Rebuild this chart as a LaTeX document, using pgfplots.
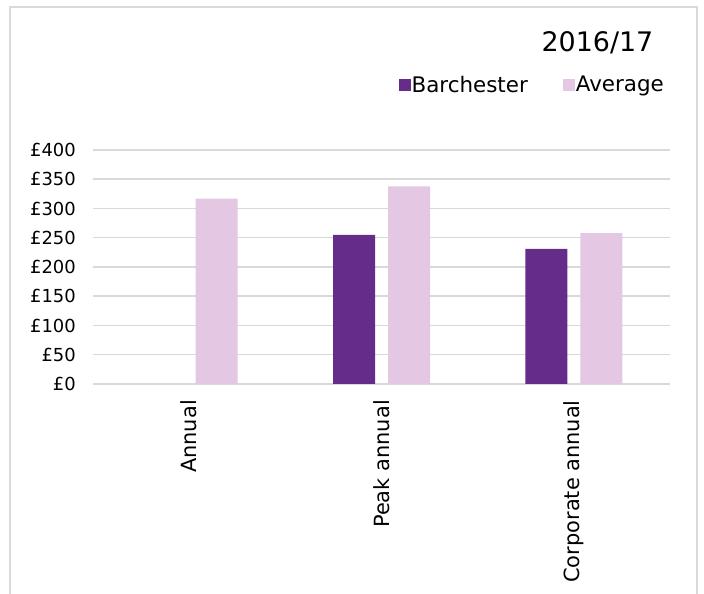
\documentclass[border=0pt]{standalone}
\usepackage{pgfplots}
\pgfplotsset{compat=1.18}
\usepackage{fontspec}
\setmainfont{DejaVu Sans}
\definecolor{barch}{HTML}{652D89}
\definecolor{avg}{HTML}{E3C7E3}
\definecolor{gridgray}{HTML}{D9D9D9}
\begin{document}
\begin{tikzpicture}[x=1bp,y=1bp]
\path[use as bounding box] (0,0) rectangle (704,594);
\draw[gridgray, line width=1.5bp] (10,0) -- (10,587) -- (697,587) -- (697,0);
\node[anchor=base, font=\fontsize{27}{30}\selectfont] at (597.5,542) {2016/17};
\begin{axis}[
  at={(93bp,210bp)}, anchor=south west,
  scale only axis, width=577bp, height=234bp,
  ybar=13bp, bar width=42bp,
  xmin=-0.5, xmax=2.5, ymin=0, ymax=400,
  xtick={0,1,2},
  xticklabels={Annual,Peak annual,Corporate annual},
  ytick={0,50,...,400},
  yticklabels={£0,£50,£100,£150,£200,£250,£300,£350,£400},
  axis line style={draw=none},
  major tick length=0pt,
  ymajorgrids,
  grid style={gridgray, line width=1.5bp},
  yticklabel style={font=\fontsize{18}{21}\selectfont, inner sep=0pt, anchor=east},
  yticklabel shift=17bp,
  xticklabel style={font=\fontsize{21}{25}\selectfont, inner sep=0pt, rotate=90, anchor=east},
  xticklabel shift=16bp,
  legend style={draw=none, fill=none, at={(rel axis cs:0.9965,1.278)}, anchor=east,
    legend columns=2, font=\fontsize{21.5}{25}\selectfont,
    nodes={inner sep=1bp},
    /tikz/every even column/.append style={column sep=34bp}},
  legend image code/.code={\fill[#1] (0bp,-6bp) rectangle (12bp,6bp);},
]
\addplot[fill=barch, draw=none] coordinates {(1,255) (2,231)};
\addplot[fill=avg, draw=none] coordinates {(0,317) (1,338) (2,258)};
\legend{Barchester,Average}
\end{axis}
\end{tikzpicture}
\end{document}
